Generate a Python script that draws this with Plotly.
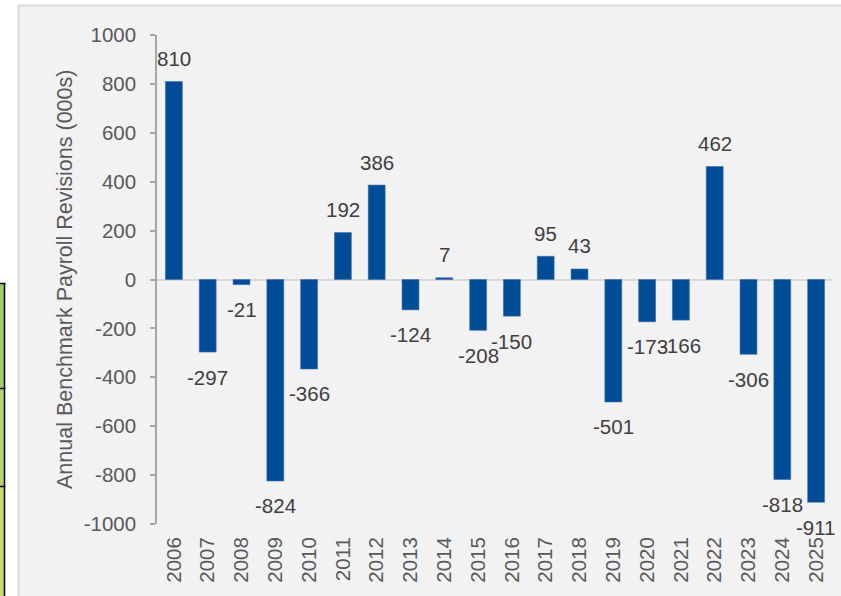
import plotly.graph_objects as go

years = [str(y) for y in range(2006, 2026)]
revisions = [810, -297, -21, -824, -366, 192, 386, -124, 7, -208, -150, 95, 43, -501, -173, -166, 462, -306, -818, -911]
y_ticks = [1000, 800, 600, 400, 200, 0, -200, -400, -600, -800, -1000]
y_title = "Annual Benchmark Payroll Revisions (000s)"

W, H = 841, 596
L, R, T, B = 157, 833, 35, 524

def xp(px):
    return (px - L) / (R - L)

def yp(py):
    return (B - py) / (B - T)

FONT = "Liberation Sans, Arial, sans-serif"

fig = go.Figure()
fig.add_trace(go.Bar(
    x=years, y=revisions,
    marker=dict(color="#004c97", line=dict(color="#3f6fa8", width=0.6)),
    width=0.5,
    hoverinfo="x+y",
))

annotations = []
for i, v in enumerate(revisions):
    annotations.append(dict(
        x=i, y=v, xref="x", yref="y", text=str(v), showarrow=False,
        yanchor="middle", xanchor="center",
        yshift=23 if v >= 0 else -25,
        font=dict(family=FONT, size=20.5, color="#404040"),
    ))
annotations.append(dict(
    x=xp(65), y=yp(280), xref="paper", yref="paper", text=y_title, showarrow=False,
    textangle=-90, xanchor="center", yanchor="middle",
    font=dict(family=FONT, size=21.5, color="#595959"),
))

shapes = [
    dict(type="rect", xref="paper", yref="paper", x0=xp(19), x1=xp(841), y0=yp(6), y1=yp(596),
         fillcolor="#f2f2f2", line=dict(width=0), layer="below"),
    dict(type="line", xref="paper", yref="paper", x0=xp(18.5), x1=xp(18.5), y0=yp(5), y1=yp(596),
         line=dict(color="#d9d9d9", width=2), layer="below"),
    dict(type="line", xref="paper", yref="paper", x0=xp(18), x1=xp(841), y0=yp(5.5), y1=yp(5.5),
         line=dict(color="#d9d9d9", width=2), layer="below"),
    dict(type="rect", xref="paper", yref="paper", x0=xp(0), x1=xp(4.5), y0=yp(283), y1=yp(388),
         fillcolor="#a2cb6c", line=dict(width=0), layer="below"),
    dict(type="rect", xref="paper", yref="paper", x0=xp(0), x1=xp(4.5), y0=yp(388), y1=yp(486),
         fillcolor="#b6d36f", line=dict(width=0), layer="below"),
    dict(type="rect", xref="paper", yref="paper", x0=xp(0), x1=xp(4.5), y0=yp(486), y1=yp(596),
         fillcolor="#cad878", line=dict(width=0), layer="below"),
    dict(type="line", xref="paper", yref="paper", x0=xp(4.5), x1=xp(4.5), y0=yp(283), y1=yp(596),
         line=dict(color="#000000", width=1.5), layer="below"),
]
for py in (283.5, 388.5, 486.5):
    shapes.append(dict(type="line", xref="paper", yref="paper", x0=xp(0), x1=xp(5.5), y0=yp(py), y1=yp(py),
                       line=dict(color="#000000", width=1.5), layer="below"))

fig.update_layout(
    width=W, height=H,
    margin=dict(l=L, r=W - R, t=T, b=H - B, pad=0),
    paper_bgcolor="#ffffff",
    plot_bgcolor="#f2f2f2",
    showlegend=False,
    font=dict(family=FONT, color="#595959"),
    shapes=shapes,
    annotations=annotations,
    xaxis=dict(
        type="category", range=[-0.5, 19.5], showgrid=False, showline=False, ticks="",
        tickangle=-90, tickfont=dict(size=20.5, color="#595959", family=FONT),
        ticklabelstandoff=8, zeroline=False,
    ),
    yaxis=dict(
        range=[-1000, 1000], tickvals=y_ticks, ticktext=[str(v) for v in y_ticks],
        showgrid=False,
        showline=True, linecolor="#a6a6a6", linewidth=1.5,
        ticks="outside", ticklen=5, tickcolor="#a6a6a6", tickwidth=1.5,
        zeroline=True, zerolinecolor="#d9d9d9", zerolinewidth=2,
        tickfont=dict(size=20.5, color="#595959", family=FONT),
        ticklabelstandoff=10,
    ),
)

fig.write_html(
    "out.html",
    config={"displayModeBar": False},
    post_script="document.body.style.margin='0px';document.body.style.padding='0px';document.body.style.overflow='hidden';",
)
